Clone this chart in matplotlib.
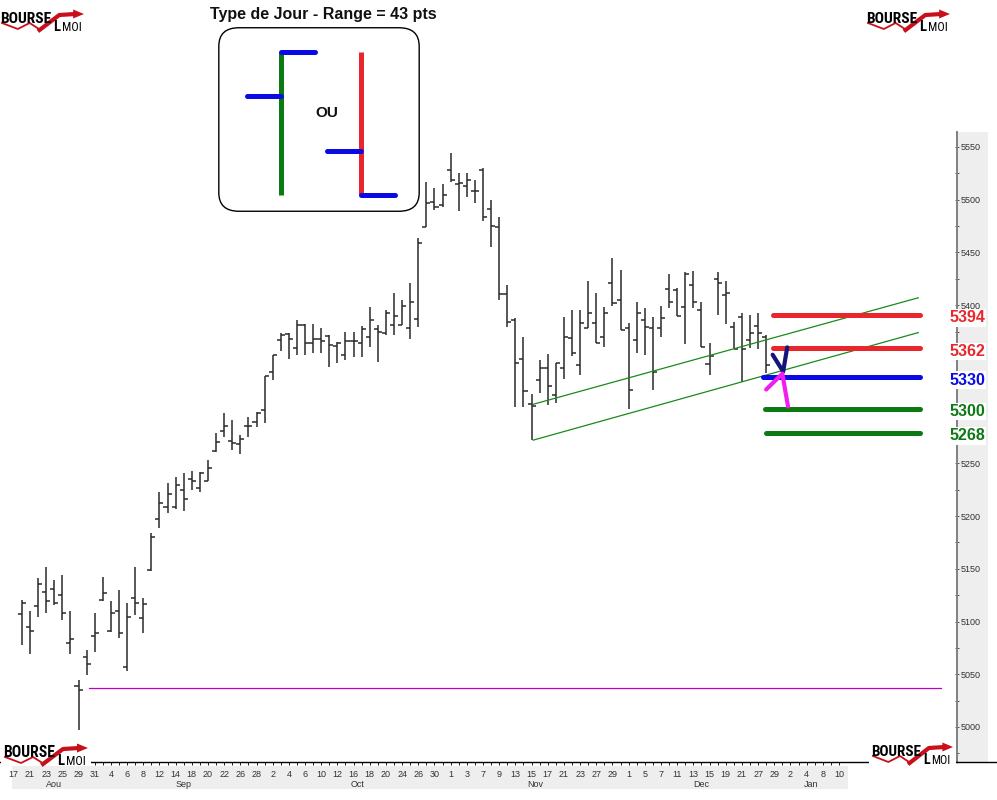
import numpy as np
import matplotlib
matplotlib.use("Agg")
import matplotlib.pyplot as plt
from matplotlib.patches import FancyBboxPatch, Rectangle, Polygon
from matplotlib.lines import Line2D
from matplotlib.ticker import MultipleLocator
from matplotlib.transforms import Affine2D

plt.rcParams['font.family'] = ['Liberation Sans', 'DejaVu Sans']

W, H = 997, 800

# trading calendar shown on the x axis (Aug 17 -> Jan 10)
month_names = ["Aou", "Sep", "Oct", "Nov", "Dec", "Jan"]
month_days = [
    [17, 18, 21, 22, 23, 24, 25, 28, 29, 30, 31],
    [1, 4, 5, 6, 7, 8, 11, 12, 13, 14, 15, 18, 19, 20, 21, 22, 25, 26, 27, 28, 29],
    [2, 3, 4, 5, 6, 9, 10, 11, 12, 13, 16, 17, 18, 19, 20, 23, 24, 25, 26, 27, 30, 31],
    [1, 2, 3, 6, 7, 8, 9, 10, 13, 14, 15, 16, 17, 20, 21, 22, 23, 24, 27, 28, 29, 30],
    [1, 4, 5, 6, 7, 8, 11, 12, 13, 14, 15, 18, 19, 20, 21, 22, 27, 28, 29],
    [1, 2, 3, 4, 5, 8, 9, 10],
]
first_bar_day = 1

# daily OHLC (Aug 18 -> Dec 28)
opens = [5107, 5095, 5115, 5128, 5131, 5125, 5080, 5039, 5066, 5086,
         5120, 5091, 5110, 5057, 5122, 5103, 5149, 5197, 5209, 5209,
         5225, 5235, 5227, 5233, 5262, 5281, 5271, 5268, 5285, 5289,
         5301, 5337, 5367, 5373, 5359, 5381, 5364, 5368, 5371, 5361,
         5353, 5366, 5364, 5370, 5377, 5374, 5381, 5381, 5378, 5387,
         5474, 5498, 5495, 5528, 5515, 5513, 5508, 5528, 5491, 5474,
         5411, 5386, 5349, 5306, 5329, 5340, 5315, 5340, 5369, 5343,
         5378, 5383, 5370, 5421, 5405, 5378, 5367, 5386, 5378, 5378,
         5415, 5414, 5398, 5419, 5395, 5344, 5425, 5410, 5379, 5389,
         5367, 5380, 5370]
highs = [5120, 5110, 5141, 5152, 5139, 5144, 5110, 5045, 5073, 5108,
         5142, 5119, 5130, 5118, 5152, 5122, 5184, 5223, 5231, 5237,
         5241, 5243, 5242, 5253, 5279, 5298, 5291, 5277, 5294, 5299,
         5333, 5353, 5374, 5374, 5386, 5382, 5382, 5378, 5372, 5365,
         5375, 5375, 5380, 5398, 5381, 5395, 5412, 5405, 5421, 5464,
         5517, 5511, 5515, 5544, 5525, 5525, 5519, 5530, 5500, 5484,
         5419, 5388, 5370, 5316, 5348, 5354, 5345, 5389, 5395, 5395,
         5423, 5412, 5398, 5445, 5433, 5383, 5403, 5397, 5389, 5399,
         5430, 5416, 5431, 5432, 5403, 5364, 5431, 5423, 5384, 5393,
         5391, 5393, 5372]
lows = [5078, 5069, 5104, 5108, 5116, 5101, 5069, 4997, 5049, 5071,
        5119, 5090, 5084, 5053, 5106, 5089, 5148, 5189, 5203, 5207,
        5205, 5225, 5223, 5233, 5261, 5275, 5263, 5259, 5275, 5284,
        5288, 5329, 5357, 5349, 5353, 5353, 5355, 5355, 5341, 5345,
        5348, 5351, 5351, 5360, 5346, 5372, 5372, 5381, 5368, 5379,
        5474, 5490, 5493, 5517, 5489, 5503, 5497, 5480, 5455, 5405,
        5379, 5303, 5303, 5272, 5317, 5305, 5307, 5330, 5352, 5334,
        5378, 5364, 5360, 5399, 5376, 5302, 5355, 5353, 5320, 5370,
        5397, 5390, 5363, 5397, 5360, 5334, 5391, 5382, 5358, 5327,
        5359, 5358, 5336]
closes = [5118, 5091, 5136, 5119, 5118, 5108, 5083, 5035, 5060, 5089,
          5127, 5108, 5089, 5104, 5118, 5117, 5180, 5212, 5221, 5229,
          5216, 5233, 5241, 5246, 5270, 5285, 5269, 5273, 5285, 5298,
          5333, 5353, 5372, 5368, 5381, 5364, 5368, 5366, 5362, 5364,
          5366, 5366, 5377, 5386, 5375, 5393, 5390, 5399, 5403, 5459,
          5497, 5493, 5504, 5519, 5516, 5519, 5508, 5484, 5475, 5411,
          5384, 5345, 5319, 5304, 5340, 5323, 5345, 5370, 5355, 5383,
          5393, 5364, 5393, 5402, 5376, 5320, 5393, 5379, 5337, 5388,
          5403, 5390, 5430, 5403, 5360, 5352, 5421, 5412, 5358, 5358,
          5374, 5374, 5343]

# price scale labels; 5350 and 5300 sit under the level labels
yticks = [5000, 5050, 5100, 5150, 5200, 5250, 5300, 5350, 5400, 5450, 5500, 5550]
ytick_labels = ["5000", "5050", "5100", "5150", "5200", "5250", "", "", "5400", "5450", "5500", "5550"]

# annotations drawn on the chart
level_texts = ["5394", "5362", "5330", "5300", "5268"]
level_prices = [5391, 5359, 5332, 5302, 5279]
level_starts = [93.8, 93.8, 92.6, 92.9, 93.0]
level_end = 112.0
level_colors = ["#e8262b", "#e8262b", "#0a0ae6", "#0b7a12", "#0b7a12"]

trend_days = [64.2, 111.8]
trend_upper = [5306, 5407]
trend_lower = [5272, 5374]

support_price = 5037
support_days = [9.3, 114.6]

check_days = [93.8, 95.1, 95.6]
check_prices = [5353, 5337, 5360]
arrow_days = [93.0, 95.0, 95.7]
arrow_prices = [5320, 5335, 5304]

# schematic of the two day types in the inset
scheme_pos = [1, 2]
scheme_open = [0.69, 0.31]
scheme_high = [1.0, 1.0]
scheme_low = [0.0, 0.0]
scheme_close = [1.0, 0.0]
scheme_colors = ["#0b7a12", "#e8262b"]

day_numbers = [d for m in month_days for d in m]
n_days = len(day_numbers)
bar_idx = np.arange(first_bar_day, first_bar_day + len(opens))

fig = plt.figure(figsize=(W / 100, H / 100), dpi=100)
fig.patch.set_facecolor("white")
tpx = Affine2D().scale(1.0 / W, -1.0 / H).translate(0, 1) + fig.transFigure

px_per_day = 8.09
ax = fig.add_axes([0, 38 / H, 957 / W, 630 / H])
ax.set_facecolor("none")
ax.set_xlim(-13.8 / px_per_day, (957 - 13.8) / px_per_day)
ax.set_ylim(4966.8, 5564.2)

bar_col = "#2a2a2a"
ax.vlines(bar_idx, lows, highs, color=bar_col, lw=1.1)
ax.hlines(opens, bar_idx - 0.5, bar_idx, color=bar_col, lw=1.1)
ax.hlines(closes, bar_idx, bar_idx + 0.5, color=bar_col, lw=1.1)

ax.plot(trend_days, trend_upper, color="#1a8a1a", lw=0.9)
ax.plot(trend_days, trend_lower, color="#1a8a1a", lw=0.9)
ax.plot(support_days, [support_price] * 2, color="#c000c0", lw=0.9)

for txt, p, x0, c in zip(level_texts, level_prices, level_starts, level_colors):
    ax.plot([x0, level_end], [p, p], color=c, lw=3.6, solid_capstyle="round", zorder=4)
    ax.text((967 - 13.8) / px_per_day, p - 3, txt, color=c, fontsize=11.5, fontweight="bold",
            ha="center", va="center", clip_on=False, zorder=6,
            bbox=dict(boxstyle="square,pad=0.08", fc="white", ec="none"))

ax.plot(check_days, check_prices, color="#14147a", lw=3, solid_capstyle="round",
        solid_joinstyle="round", zorder=6)
ax.plot(arrow_days, arrow_prices, color="#f01ef0", lw=3, solid_capstyle="round",
        solid_joinstyle="round", zorder=6)

# axes styling
for s in ["top", "left"]:
    ax.spines[s].set_visible(False)
ax.spines["bottom"].set_color("black")
ax.spines["bottom"].set_linewidth(1.0)
ax.spines["right"].set_color("#808080")
ax.spines["right"].set_linewidth(1.4)

ax.yaxis.tick_right()
ax.set_yticks(yticks)
ax.set_yticklabels(ytick_labels)
ax.yaxis.set_minor_locator(MultipleLocator(25))
ax.tick_params(axis="y", which="both", direction="inout", length=3, width=0.7,
               colors="#555555", labelsize=6.5, pad=1)
ax.tick_params(axis="y", labelcolor="#333333")

ax.set_xticks(np.arange(0, n_days, 2))
ax.set_xticklabels([str(d) for d in day_numbers[::2]])
ax.set_xticks(np.arange(n_days), minor=True)
ax.tick_params(axis="x", which="both", direction="out", length=2.5, width=0.6,
               color="black", labelsize=6.5, pad=3)
ax.tick_params(axis="x", labelcolor="#333333")

start = 0
for name, days in zip(month_names, month_days):
    centre = start + (len(days) - 1) / 2
    ax.text(centre, -0.035, name, transform=ax.get_xaxis_transform(), fontsize=6.5,
            color="#333333", ha="center", va="center")
    start += len(days)

# grey label bands
fig.patches.append(Rectangle((958, 132), 30, 630, transform=tpx, fc="#eeeeee", ec="none", zorder=-1))
fig.patches.append(Rectangle((12, 766), 836, 23, transform=tpx, fc="#eeeeee", ec="none", zorder=-1))
fig.lines.append(Line2D([957, 997], [762, 762], transform=tpx, color="black", lw=1.0))

# inset
axi = fig.add_axes([218 / W, 1 - 212 / H, 202 / W, 185 / H])
axi.set_xlim(0.2125, 2.7375)
axi.set_ylim(-0.119, 1.175)
axi.axis("off")
axi.add_patch(FancyBboxPatch((0.004, 0.004), 0.992, 0.992, boxstyle="round,pad=0,rounding_size=0.1",
                             transform=axi.transAxes, fc="white", ec="black", lw=1.0, clip_on=False))
axi.vlines(scheme_pos, scheme_low, scheme_high, colors=scheme_colors, lw=3.6)
tick_len = 0.425
axi.hlines(scheme_open, np.array(scheme_pos) - tick_len, scheme_pos, color="#0a0ae6", lw=3.6,
           capstyle="round", zorder=3)
axi.hlines(scheme_close, scheme_pos, np.array(scheme_pos) + tick_len, color="#0a0ae6", lw=3.6,
           capstyle="round", zorder=3)
axi.text(1.575, 0.573, "OU", fontsize=11, fontweight="bold", ha="center", va="center", color="#111111")

fig.text(323, 14, "Type de Jour - Range = 43 pts", transform=tpx, ha="center", va="center",
         fontsize=11.5, fontweight="bold", color="#111111")

# logos
renderer = fig.canvas.get_renderer()
logo_font = ["Liberation Sans Narrow", "Roboto Condensed", "Open Sans Condensed", "DejaVu Sans"]


def fit_width(t, width):
    bb = t.get_window_extent(renderer)
    t.set_fontsize(t.get_fontsize() * width / bb.width)


def draw_logo(x0, y0, w):
    s = w / 85.0
    red = "#c8101c"
    fig.patches.append(Rectangle((x0 - 2, y0 - 1), w + 5, 31, transform=tpx, fc="white", ec="none", zorder=4))
    fig.lines.append(Line2D(x0 + s * np.array([2, 18, 30, 41]), y0 + np.array([21, 27, 21, 28]),
                            transform=tpx, color=red, lw=1.3, zorder=5))
    fig.lines.append(Line2D(x0 + s * np.array([40, 60, 76]), y0 + np.array([28, 13, 12]),
                            transform=tpx, color=red, lw=3.0, zorder=5))
    fig.patches.append(Polygon([[x0 + s * 74, y0 + 7.5], [x0 + s * 85, y0 + 12], [x0 + s * 74, y0 + 16.5]],
                               transform=tpx, fc=red, ec="none", zorder=5))
    t = fig.text(x0, y0 + 21, "BOURSE", transform=tpx, ha="left", va="baseline", fontsize=12,
                 fontweight="bold", fontstretch="condensed", family=logo_font, color="black", zorder=6)
    fit_width(t, 52 * s)
    t = fig.text(x0 + 54 * s, y0 + 29, "L", transform=tpx, ha="left", va="baseline", fontsize=13,
                 fontweight="bold", fontstretch="condensed", family=logo_font, color="black", zorder=6)
    fit_width(t, 7 * s)
    t = fig.text(x0 + 62.5 * s, y0 + 29, "MOI", transform=tpx, ha="left", va="baseline", fontsize=8,
                 fontstretch="condensed", family=logo_font, color="black", zorder=6)
    fit_width(t, 20 * s)


draw_logo(0, 2, 84)
draw_logo(866, 2, 84)
draw_logo(3, 736, 85)
draw_logo(871, 735, 82)

fig.savefig("out.png", dpi=100, facecolor="white")
